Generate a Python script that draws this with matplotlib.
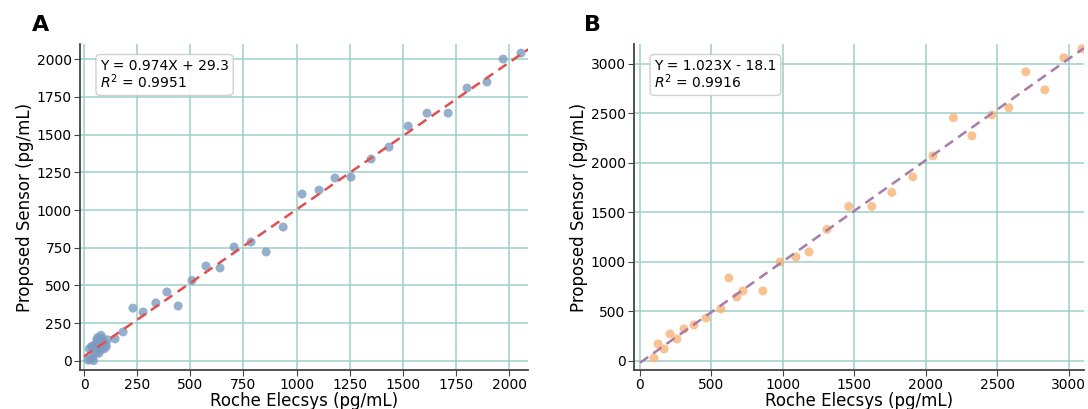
import numpy as np
import matplotlib.pyplot as plt

# Panel A: Roche Elecsys vs proposed sensor (set 1)
roche_a = [20, 30, 40, 45, 25, 35, 45, 55, 60, 65, 70, 75, 80, 85, 90, 95, 100,
           110, 60, 70, 80, 50, 40, 105,
           146, 184, 230, 278, 338, 390, 443, 508, 574, 640, 706, 786, 857, 937,
           1026, 1106, 1181, 1256, 1351, 1435, 1525, 1614, 1713, 1802, 1896,
           1972, 2056]
sensor_a = [5, 10, 20, 2, 80, 95, 100, 110, 140, 155, 100, 120, 170, 150, 130, 80, 110,
            140, 60, 50, 75, 50, 90, 95,
            146, 192, 350, 324, 384, 457, 364, 533, 629, 616, 755, 788, 722, 887,
            1106, 1132, 1212, 1218, 1338, 1417, 1556, 1642, 1642, 1808, 1848,
            2000, 2040]
slope_a, icpt_a, r2_a = 0.974, 29.3, 0.9951

# Panel B: Roche Elecsys vs proposed sensor (set 2)
roche_b = [98, 126, 168, 210, 259, 308, 378, 462, 566, 622, 678, 720, 860, 979,
           1091, 1182, 1308, 1460, 1622, 1762, 1909, 2049, 2192, 2322, 2462,
           2580, 2699, 2832, 2965, 3091]
sensor_b = [30, 172, 121, 273, 222, 323, 364, 434, 525, 838, 646, 707, 707, 1000,
            1050, 1101, 1328, 1560, 1560, 1702, 1859, 2071, 2455, 2273, 2485,
            2556, 2919, 2737, 3061, 3152]
slope_b, icpt_b, r2_b = 1.023, -18.1, 0.9916

plt.rcParams['font.family'] = 'DejaVu Sans'

fig = plt.figure(figsize=(10.88, 4.09), dpi=100)
ax_a = fig.add_axes([0.0735, 0.0954, 0.412, 0.797])
ax_b = fig.add_axes([0.5827, 0.0954, 0.4135, 0.797])

grid_col = '#9ccfc9'


def panel(ax, x, y, slope, icpt, r2, dot_col, line_col, xlim, ylim, xticks, yticks):
    ax.set_xlim(*xlim)
    ax.set_ylim(*ylim)
    ax.set_axisbelow(True)
    ax.grid(True, color=grid_col, lw=1.1)
    ax.scatter(x, y, s=42, color=dot_col, alpha=0.8, edgecolors='none', zorder=3)
    xx = np.array([0, xlim[1]])
    ax.plot(xx, slope * xx + icpt, ls='--', color=line_col, lw=1.8,
            dashes=(4, 2.5), zorder=4)
    ax.set_xticks(xticks)
    ax.set_yticks(yticks)
    for s in ['top', 'right']:
        ax.spines[s].set_visible(False)
    for s in ['left', 'bottom']:
        ax.spines[s].set_color('#444444')
        ax.spines[s].set_linewidth(1.3)
    ax.tick_params(labelsize=10, length=4, pad=2, color='#444444')
    ax.set_xlabel('Roche Elecsys (pg/mL)', fontsize=12, labelpad=0)
    ax.set_ylabel('Proposed Sensor (pg/mL)', fontsize=12, labelpad=2)
    sign = '+' if icpt >= 0 else '-'
    txt = f'Y = {slope:.3f}X {sign} {abs(icpt):.1f}\n$R^2$ = {r2:.4f}'
    ax.text(0.045, 0.955, txt, transform=ax.transAxes, va='top', ha='left',
            fontsize=10, linespacing=1.0, zorder=5,
            bbox=dict(boxstyle='round,pad=0.3', facecolor='white',
                      edgecolor='#cccccc', alpha=0.9))


panel(ax_a, roche_a, sensor_a, slope_a, icpt_a, r2_a, '#7b9cc0', '#e05050',
      (-19, 2090), (-60, 2100), range(0, 2001, 250), range(0, 2001, 250))
panel(ax_b, roche_b, sensor_b, slope_b, icpt_b, r2_b, '#f8b476', '#a87ba8',
      (-42, 3105), (-91, 3200), range(0, 3001, 500), range(0, 3001, 500))

fig.text(0.037, 0.94, 'A', fontsize=16, fontweight='bold', va='center', ha='center')
fig.text(0.545, 0.94, 'B', fontsize=16, fontweight='bold', va='center', ha='center')

fig.set_facecolor('white')
fig.savefig('out.png', dpi=100)
